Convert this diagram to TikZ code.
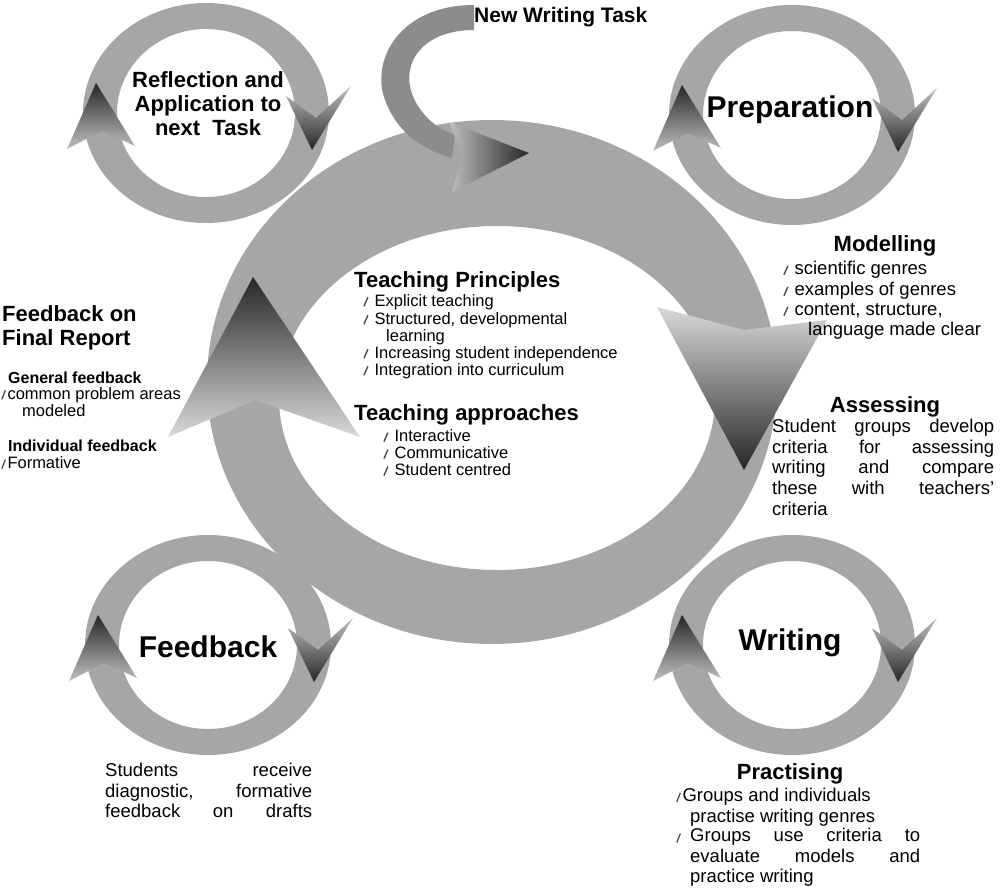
\documentclass[tikz,border=0pt]{standalone}
\usepackage{fontspec}
\setmainfont{Liberation Sans}
\newcommand\pencil{\tikz[x=1pt,y=1pt,baseline=0pt]{\draw[line width=1.4pt,gray!60!black](0,0)--(4,9);}\hspace{6pt}}
\newcommand\pen{\tikz[x=1pt,y=1pt,baseline=0pt]{\draw[line width=1.3pt,gray!60!black](0,0)--(3.5,9);}\hspace{1.5pt}}
\begin{document}
\begin{tikzpicture}[x=1pt,y=-1pt,
  ringc/.style={fill=black!35, even odd rule},
  hd/.style={font=\bfseries\fontsize{22}{24}\selectfont},
  bighd/.style={font=\bfseries\fontsize{30}{32}\selectfont},
  bl/.style={font=\fontsize{16.5}{17}\selectfont, anchor=west, inner sep=0pt},
  bm/.style={font=\fontsize{18.5}{20}\selectfont, anchor=west, inner sep=0pt},
  bt/.style={font=\fontsize{18.5}{20.6}\selectfont, inner sep=0pt, align=justify}]
\useasboundingbox (0,0) rectangle (1000,889);
% small rings
\foreach \cx/\cy in {206/113, 792/115, 208/645, 792/645}{
  \fill[ringc] (\cx,\cy) ellipse (123 and 110) (\cx,\cy) ellipse (89 and 84);
}
% big ring
\fill[ringc] (492,382) ellipse (285 and 262) (497,398) ellipse (218 and 172);
% new writing task arrow
\fill[black!45] (474,5) .. controls (400,5) and (370,60) .. (385,100) .. controls (398,135) and (425,150) .. (452,158)
  -- (455,135) .. controls (425,125) and (405,95) .. (410,70) .. controls (415,45) and (440,30) .. (474,30) -- cycle;
\shade[left color=black!25, right color=black!85] (449,122) -- (529,153) -- (452,192) -- (462,155) -- cycle;
% big ring arrows
\shade[bottom color=black!15, top color=black!85] (253,277) -- (360,437) -- (255,400) -- (168,437) -- cycle;
\shade[top color=black!15, bottom color=black!85] (657,307) -- (744,330) -- (827,320) -- (744,470) -- cycle;
% small ring arrowheads (left up, right down)
\foreach \cx/\cy in {206/113, 792/115, 208/645, 792/645}{
  \shade[top color=black!85, bottom color=black!25] (\cx-110,\cy-30) -- (\cx-71,\cy+33) -- (\cx-104,\cy+18) -- (\cx-139,\cy+36) -- cycle;
  \shade[top color=black!25, bottom color=black!85] (\cx+80,\cy-17) -- (\cx+110,\cy+5) -- (\cx+145,\cy-27) -- (\cx+106,\cy+37) -- cycle;
}
% texts
\node[font=\bfseries\fontsize{21}{22}\selectfont, anchor=west, inner sep=0pt] (nwt) at (474,17) {New Writing Task};
\node[hd, align=center] (refl) at (208,104) {Reflection and\\Application to\\next\ \ Task};
\node[bighd] (prep) at (790,110) {Preparation};
\node[bighd] (fb) at (208,647) {Feedback};
\node[bighd] (wr) at (790,643) {Writing};
\node[hd] (mod) at (885,246) {Modelling};
\node[bm] (m1) at (783,270) {\pencil scientific genres};
\node[bm] (m2) at (783,291) {\pencil examples of genres};
\node[bm] (m3) at (783,311) {\pencil content, structure,};
\node[bm] (m4) at (808,331) {language made clear};
\node[hd, anchor=west, inner sep=0pt] (tp) at (354,282) {Teaching Principles};
\node[bl] (t1) at (363,302) {\pencil Explicit teaching};
\node[bl] (t2) at (363,320) {\pencil Structured, developmental};
\node[bl] (t3) at (386,337) {learning};
\node[bl] (t4) at (363,354) {\pencil Increasing student independence};
\node[bl] (t5) at (363,371) {\pencil Integration into curriculum};
\node[hd, anchor=west, inner sep=0pt] (ta) at (354,415) {Teaching approaches};
\node[bl] (a1) at (383,436) {\pencil Interactive};
\node[bl] (a2) at (383,453) {\pencil Communicative};
\node[bl] (a3) at (383,470) {\pencil Student centred};
\node[hd, anchor=north west, inner sep=0pt, align=left] (fr) at (2,305) {Feedback on\\Final Report};
\node[bl, font=\bfseries\fontsize{16}{17}\selectfont] (g0) at (8,378) {General feedback};
\node[bl] (g1) at (1,395) {\pen common problem areas};
\node[bl] (g2) at (22,411) {modeled};
\node[bl, font=\bfseries\fontsize{16}{17}\selectfont] (i0) at (8,446) {Individual feedback};
\node[bl] (i1) at (1,463) {\pen Formative};
\node[hd] (as) at (885,407) {Assessing};
\node[bt, text width=222pt, anchor=north west] (ast) at (772,419) {Student groups develop\linebreak criteria for assessing\linebreak writing and compare\linebreak these with teachers'\linebreak criteria};
\node[bt, text width=207pt, anchor=north west] (srt) at (105,763) {Students receive\linebreak diagnostic, formative\linebreak feedback on drafts\linebreak};
\node[hd] (pr) at (790,774) {Practising};
\node[bm] (p1) at (676,797) {\pen Groups and individuals};
\node[bm] (p2) at (690,818) {practise writing genres};
\node[bm] (p3) at (676,838) {\pen};
\node[bt, text width=230pt, anchor=north west] (prt) at (690,828) {Groups use criteria to\linebreak evaluate models and\linebreak practice writing};
\end{tikzpicture}
\end{document}
